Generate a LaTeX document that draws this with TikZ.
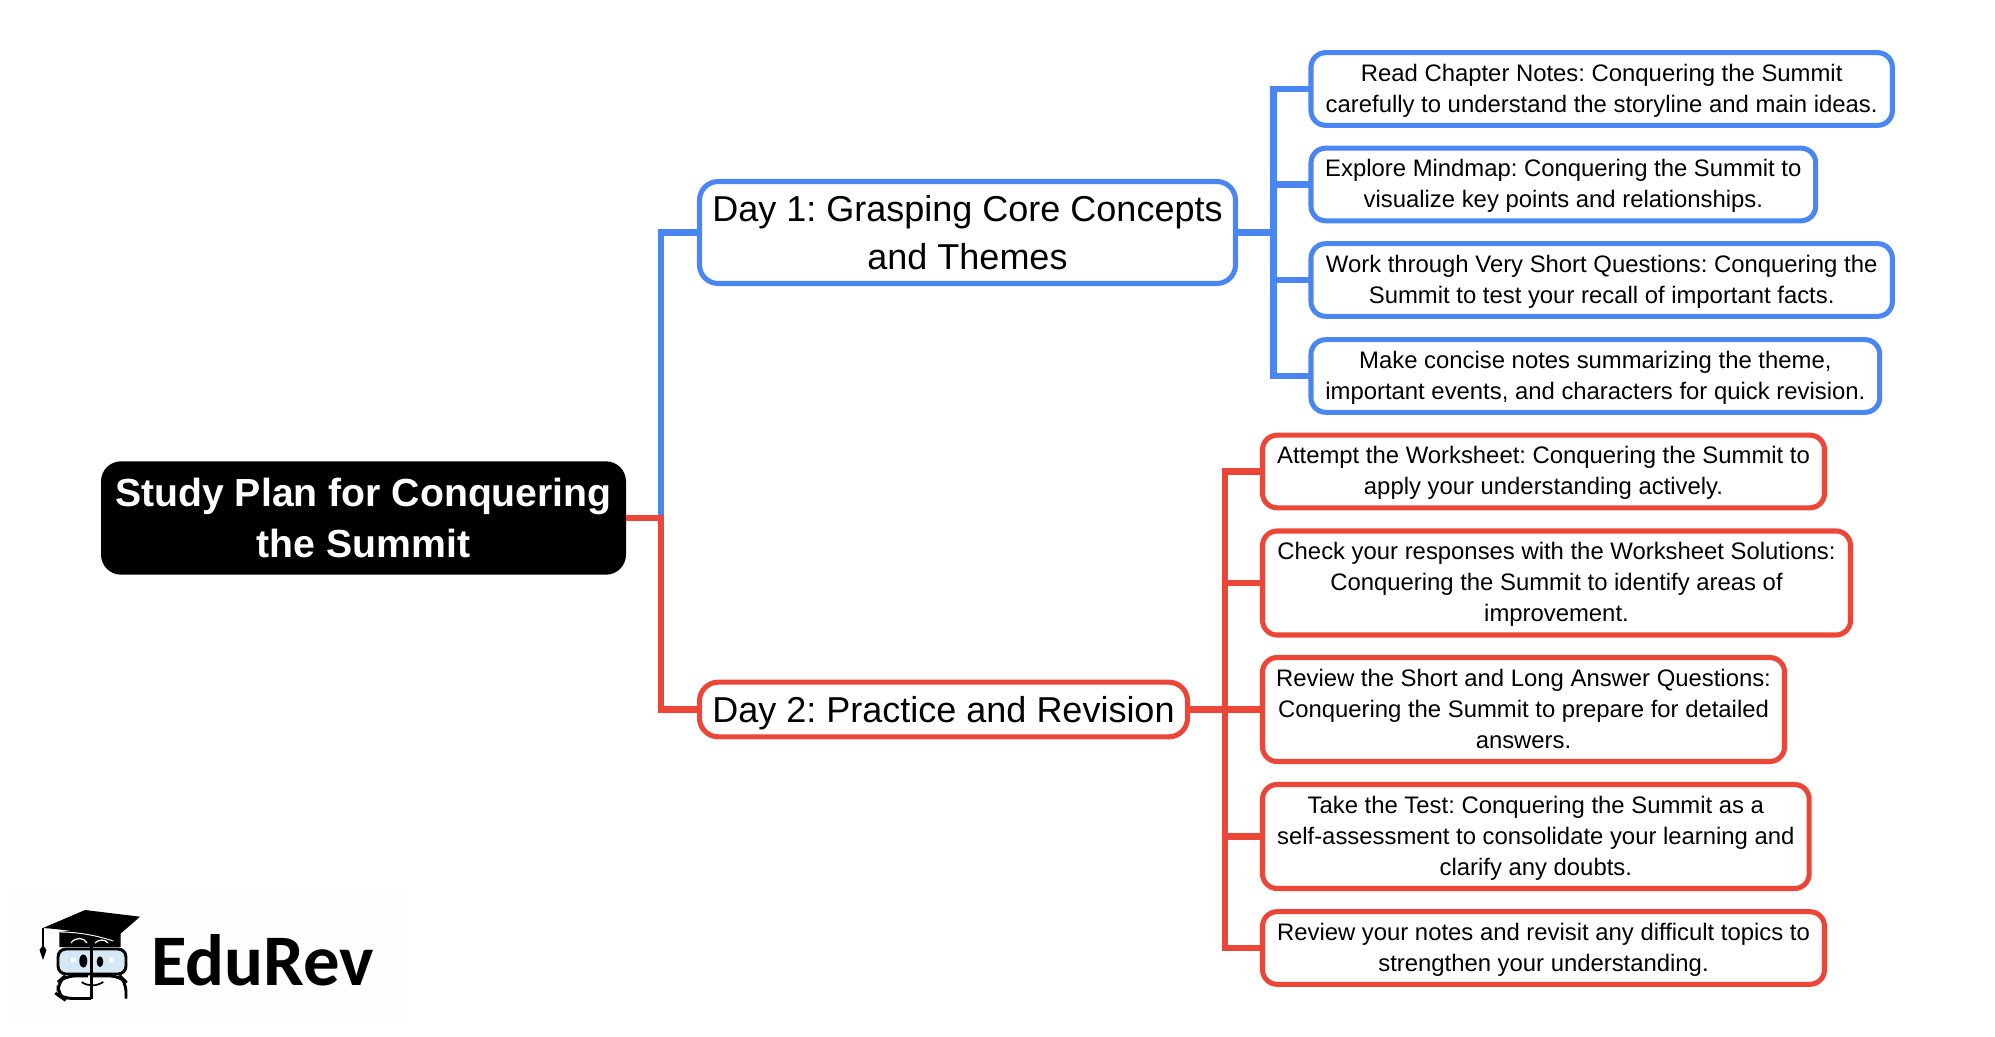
\documentclass[tikz,border=0pt]{standalone}
\usepackage{fontspec}
\setmainfont{Liberation Sans}
\newfontfamily\logofont{Carlito}
\frenchspacing
\definecolor{planblue}{HTML}{4A86F2}
\definecolor{planred}{HTML}{EC4639}
\definecolor{lensblue}{HTML}{D4E8F6}
\tikzset{
  rootbox/.style={anchor=west, fill=black, text=white, rounded corners=15pt, inner sep=0pt, outer sep=0pt, align=center, font=\fontsize{29.4}{38}\selectfont\bfseries, minimum width=393.75pt, minimum height=85pt},
  daybox/.style={anchor=west, draw, fill=white, line width=3.8pt, rounded corners=14pt, inner sep=0pt, outer sep=0pt, align=center, text depth=0pt, font=\fontsize{27}{35.5}\selectfont},
  leafbox/.style={anchor=west, draw, fill=white, line width=3.8pt, rounded corners=11pt, inner sep=0pt, outer sep=0pt, align=center, text depth=1.2pt, font=\fontsize{17.9}{23.3}\selectfont},
  blueline/.style={draw=planblue, line width=5pt},
  redline/.style={draw=planred, line width=5pt}
}
\begin{document}
\begin{tikzpicture}[x=0.75pt,y=-0.75pt]
    \useasboundingbox (0,0) rectangle (1995,1037);

    \node[rootbox] (root) at (101,518) {Study Plan for Conquering\\the Summit};

    \node[daybox, draw=planblue, minimum width=402pt, minimum height=76.5pt] (dayone) at (699.5,232.5) {Day 1: Grasping Core Concepts\\and Themes};
    \node[daybox, draw=planred, minimum width=366pt, minimum height=41pt] (daytwo) at (699.5,709.5) {Day 2: Practice and Revision};

    \node[leafbox, draw=planblue, minimum width=436pt, minimum height=54.5pt] (chapternotes) at (1311,89) {Read Chapter Notes: Conquering the Summit\\carefully to understand the storyline and main ideas.};
    \node[leafbox, draw=planblue, minimum width=378.5pt, minimum height=54.5pt] (mindmap) at (1311,184.5) {Explore Mindmap: Conquering the Summit to\\visualize key points and relationships.};
    \node[leafbox, draw=planblue, minimum width=436pt, minimum height=54.5pt] (shortquestions) at (1311,280) {Work through Very Short Questions: Conquering the\\Summit to test your recall of important facts.};
    \node[leafbox, draw=planblue, minimum width=426.5pt, minimum height=54.5pt] (concisenotes) at (1311,376) {Make concise notes summarizing the theme,\\important events, and characters for quick revision.};

    \node[leafbox, draw=planred, minimum width=421.5pt, minimum height=54.5pt] (worksheet) at (1262.5,471.5) {Attempt the Worksheet: Conquering the Summit to\\apply your understanding actively.};
    \node[leafbox, draw=planred, minimum width=441pt, minimum height=78pt] (solutions) at (1262.5,583) {Check your responses with the Worksheet Solutions:\\Conquering the Summit to identify areas of\\improvement.};
    \node[leafbox, draw=planred, minimum width=391.5pt, minimum height=78pt] (longanswers) at (1262.5,709.5) {Review the Short and Long Answer Questions:\\Conquering the Summit to prepare for detailed\\answers.};
    \node[leafbox, draw=planred, minimum width=410pt, minimum height=78pt] (taketest) at (1262.5,836.5) {Take the Test: Conquering the Summit as a\\self-assessment to consolidate your learning and\\clarify any doubts.};
    \node[leafbox, draw=planred, minimum width=421.5pt, minimum height=54.5pt] (revisit) at (1262.5,948) {Review your notes and revisit any difficult topics to\\strengthen your understanding.};

    \coordinate (trunkroot) at (661,518);
    \coordinate (trunkone) at (1273.5,232.5);
    \coordinate (trunktwo) at (1225,709.5);

    \draw[blueline] (trunkroot) |- (dayone.west);
    \draw[redline] (root.east) -- (trunkroot) |- (daytwo.west);

    \draw[blueline] (dayone.east) -- (trunkone);
    \draw[blueline] (trunkone) |- (chapternotes.west);
    \draw[blueline] (trunkone) |- (mindmap.west);
    \draw[blueline] (trunkone) |- (shortquestions.west);
    \draw[blueline] (trunkone) |- (concisenotes.west);

    \draw[redline] (daytwo.east) -- (longanswers.west);
    \draw[redline] (trunktwo) |- (worksheet.west);
    \draw[redline] (trunktwo) |- (solutions.west);
    \draw[redline] (trunktwo) |- (taketest.west);
    \draw[redline] (trunktwo) |- (revisit.west);

    % logo
    \fill[black!0.4] (10,888) rectangle (406,1020);
    \node[anchor=base west, inner sep=0pt, font=\fontsize{54.5}{54.5}\selectfont\logofont\bfseries] (logotext) at (151,985) {EduRev};
    \fill (59.3,932) -- (120.7,925) -- (120.7,947) -- (59.3,947) -- cycle;
    \fill (43,928) -- (85,910) -- (140,916.7) -- (113.3,940) .. controls (95,934) and (70,930) .. (43,928) -- cycle;
    \draw[white, line width=0.7pt] (59.3,932) .. controls (80,932) and (98,936) .. (113.3,941);
    \draw[white, line width=0.9pt] (71,943) .. controls (75,937) and (84,937) .. (87,943);
    \draw[white, line width=0.9pt] (95,943) .. controls (99,939) and (105,939) .. (108,943);
    \draw[line width=1.3pt] (43,928) -- (43,947);
    \fill (43,945) -- (46.5,950) -- (43,960) -- (39.5,950) -- cycle;
    \draw[fill=lensblue, line width=2.2pt, rounded corners=6pt] (58,949) rectangle (126,974);
    \draw[line width=2.2pt, rounded corners=7pt] (88,976) -- (65,976) -- (58,982) -- (58,995) -- (63,998.5) -- (91,998.5);
    \draw[line width=2.2pt, rounded corners=7pt] (93,976) -- (120,976) -- (126,982) -- (126,998.5);
    \draw[line width=2.4pt] (91.7,947) -- (91.7,999);
    \fill[white] (71,958) rectangle (76,962);
    \fill[white] (109,958) rectangle (114,962);
    \fill (83.3,961) ellipse (4 and 6.5);
    \fill (100,961.7) ellipse (3.3 and 5.3);
    \draw[line width=1.3pt] (81.7,982) .. controls (88,986.5) and (96,986.5) .. (103.3,982);
\end{tikzpicture}
\end{document}
